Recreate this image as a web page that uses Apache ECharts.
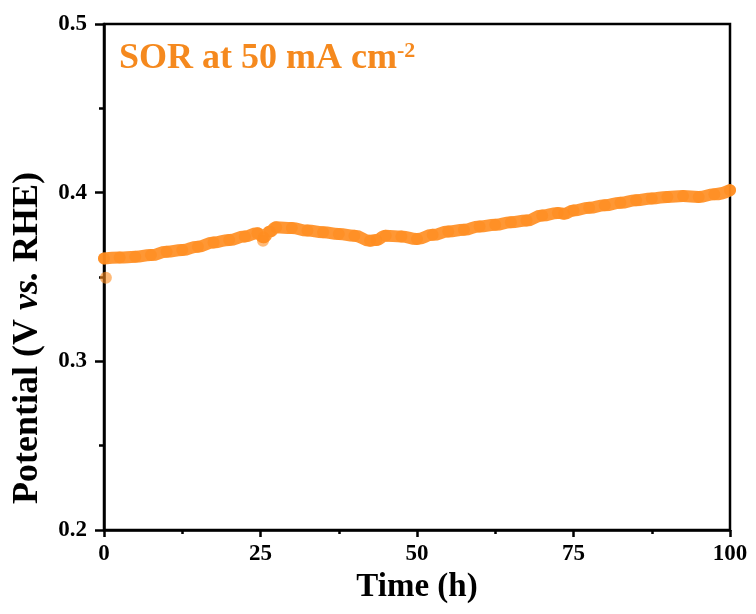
<!DOCTYPE html>
<html>
<head>
<meta charset="utf-8">
<script src="https://cdn.jsdelivr.net/npm/echarts@6/dist/echarts.min.js"></script>
<style>html,body{margin:0;padding:0;background:#fff}#c{width:756px;height:614px}</style>
</head>
<body>
<div id="c"></div>
<script>
var times = [0, 2.5, 5, 7.5, 10, 12.5, 15, 17.5, 20, 22.5, 24.5, 25.5, 26.5, 27.5, 30, 32.5, 35, 37.5, 40, 42.5, 43.5, 45, 47.5, 50, 52.5, 55, 57.5, 60, 62.5, 65, 67.5, 70, 72.5, 73.5, 75, 77.5, 80, 82.5, 85, 87.5, 90, 92.5, 95, 97.5, 100];
var potentials = [0.361, 0.3615, 0.362, 0.363, 0.365, 0.366, 0.368, 0.3705, 0.372, 0.374, 0.376, 0.3735, 0.377, 0.3795, 0.379, 0.3775, 0.3765, 0.3755, 0.3745, 0.3715, 0.372, 0.3745, 0.374, 0.3725, 0.375, 0.377, 0.378, 0.380, 0.381, 0.3825, 0.3835, 0.3865, 0.388, 0.3875, 0.3895, 0.391, 0.3925, 0.394, 0.3955, 0.3965, 0.3975, 0.398, 0.3975, 0.399, 0.4015];
var outlierTimes = [0.3, 25.4];
var outlierValues = [0.3495, 0.3715];
var xTicks = [0, 25, 50, 75, 100];
var yTicks = [0.2, 0.3, 0.4, 0.5];

var data = times.map(function (t, i) { return [t, potentials[i]]; });
var outliers = outlierTimes.map(function (t, i) { return [t, outlierValues[i]]; });
var font = '"Liberation Serif", "Times New Roman", serif';
var orange = '#FF8C1E';
var chart = echarts.init(document.getElementById('c'));
chart.setOption({
  animation: false,
  grid: { left: 104, right: 26, top: 24, bottom: 84, show: true, borderColor: '#000', borderWidth: 2.5, backgroundColor: 'transparent' },
  xAxis: {
    type: 'value', min: 0, max: 100, interval: 25,
    name: 'Time (h)', nameLocation: 'middle', nameGap: 33,
    nameTextStyle: { fontFamily: font, fontWeight: 'bold', fontSize: 33, color: '#000' },
    axisLine: { lineStyle: { color: '#000', width: 2.5 } },
    axisTick: { show: true, length: 7, lineStyle: { width: 2.5, color: '#000' } },
    minorTick: { show: true, splitNumber: 2, length: 4, lineStyle: { width: 2.5, color: '#000' } },
    splitLine: { show: false },
    axisLabel: { fontFamily: font, fontWeight: 'bold', fontSize: 23, color: '#000', margin: 13,
      formatter: function (v) { return xTicks.indexOf(v) >= 0 ? String(v) : ''; } }
  },
  yAxis: {
    type: 'value', min: 0.2, max: 0.5, interval: 0.1,
    name: '{a|Potential (V }{b|vs.}{a| RHE)}', nameLocation: 'middle', nameGap: 58, nameRotate: 90,
    nameTextStyle: { padding: [0, 122, 0, 0], rich: {
      a: { fontFamily: font, fontWeight: 'bold', fontSize: 36, color: '#000' },
      b: { fontFamily: font, fontWeight: 'bold', fontStyle: 'italic', fontSize: 36, color: '#000' } } },
    axisLine: { lineStyle: { color: '#000', width: 2.5 } },
    axisTick: { show: true, length: 9, lineStyle: { width: 2.5, color: '#000' } },
    minorTick: { show: true, splitNumber: 2, length: 5, lineStyle: { width: 2.5, color: '#000' } },
    splitLine: { show: false },
    axisLabel: { fontFamily: font, fontWeight: 'bold', fontSize: 23, color: '#000', margin: 17,
      formatter: function (v) { var s = v.toFixed(1); return yTicks.indexOf(+s) >= 0 ? s : ''; } }
  },
  graphic: [{
    type: 'text', left: 119, top: 40,
    style: {
      text: '{a|SOR at 50 mA cm}{s|-2}',
      rich: {
        a: { fontFamily: font, fontWeight: 'bold', fontSize: 36, fill: '#F5891E', verticalAlign: 'bottom' },
        s: { fontFamily: font, fontWeight: 'bold', fontSize: 22, fill: '#F5891E', verticalAlign: 'top', padding: [0, 0, 15, 0] }
      }
    }
  }],
  series: [{
    type: 'line', data: data, smooth: true, smoothMonotone: 'x',
    symbol: 'circle', symbolSize: 12,
    itemStyle: { color: orange, opacity: 0.6 },
    lineStyle: { color: orange, width: 12, cap: 'round', join: 'round', opacity: 0.9 }
  }, {
    type: 'scatter', data: outliers, symbol: 'circle', symbolSize: 12,
    itemStyle: { color: orange, opacity: 0.6 }
  }]
});
</script>
</body>
</html>
